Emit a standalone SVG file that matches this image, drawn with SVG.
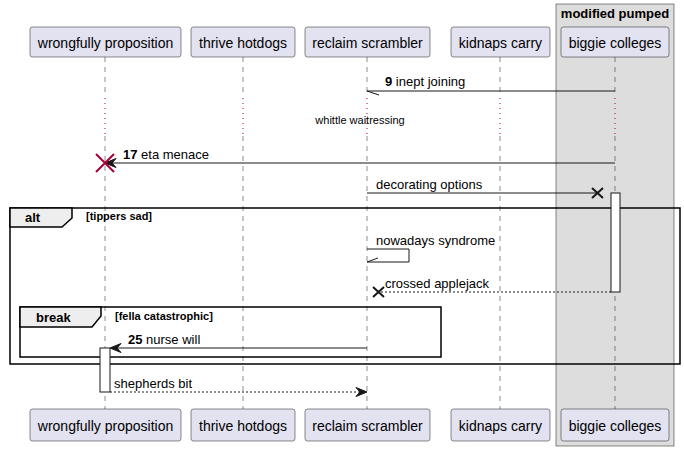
<svg xmlns="http://www.w3.org/2000/svg" width="684" height="451" viewBox="0 0 684 451">
<style>
.p rect{fill:#E2E2F0;stroke:#181818;stroke-width:0.5}
.p text{font-family:"Liberation Sans",Arial,sans-serif;font-size:14px;fill:#000;text-anchor:middle}
.ll{stroke:#181818;stroke-width:0.5;stroke-dasharray:5,5;fill:none}
.dl{stroke:#A80036;stroke-width:1;stroke-dasharray:1,4;fill:none}
.m{stroke:#181818;stroke-width:1;fill:none}
.md{stroke:#181818;stroke-width:1;fill:none;stroke-dasharray:2,2}
.ah{fill:#181818;stroke:#181818;stroke-width:1}
.t{font-family:"Liberation Sans",Arial,sans-serif;font-size:13px;fill:#000}
.s{font-family:"Liberation Sans",Arial,sans-serif;font-size:11px;fill:#000}
.b{font-weight:bold}
.fr{fill:none;stroke:#000;stroke-width:1.5}
.tab{fill:#EEEEEE;stroke:#000;stroke-width:1.5}
.act{fill:#FFFFFF;stroke:#181818;stroke-width:1}
</style>
<g id="box-modified-pumped">
<rect x="556" y="4" width="118" height="442" fill="#DDDDDD" stroke="#181818" stroke-width="0.5"/>
<text x="615" y="18" class="t b" text-anchor="middle">modified pumped</text>
</g>
<g id="lifelines">
<path class="ll" d="M105,57V97 M105,136V409 M243,57V97 M243,136V409 M367,57V97 M367,136V409 M500,57V97 M500,136V409 M615,57V97 M615,136V409"/>
<path class="dl" d="M105,98V135 M243,98V135 M367,98V135 M500,98V135 M615,98V135"/>
</g>
<g id="p-wrongfully-proposition" class="p">
<rect x="30" y="27" width="151" height="30" rx="2.5"/>
<text x="105.5" y="47.5">wrongfully proposition</text>
<rect x="30" y="409" width="151" height="32" rx="2.5"/>
<text x="105.5" y="430.5">wrongfully proposition</text>
</g>
<g id="p-thrive-hotdogs" class="p">
<rect x="191" y="27" width="104" height="30" rx="2.5"/>
<text x="243" y="47.5">thrive hotdogs</text>
<rect x="191" y="409" width="104" height="32" rx="2.5"/>
<text x="243" y="430.5">thrive hotdogs</text>
</g>
<g id="p-reclaim-scrambler" class="p">
<rect x="305" y="27" width="125" height="30" rx="2.5"/>
<text x="367.5" y="47.5">reclaim scrambler</text>
<rect x="305" y="409" width="125" height="32" rx="2.5"/>
<text x="367.5" y="430.5">reclaim scrambler</text>
</g>
<g id="p-kidnaps-carry" class="p">
<rect x="451" y="27" width="99" height="30" rx="2.5"/>
<text x="500.5" y="47.5">kidnaps carry</text>
<rect x="451" y="409" width="99" height="32" rx="2.5"/>
<text x="500.5" y="430.5">kidnaps carry</text>
</g>
<g id="p-biggie-colleges" class="p">
<rect x="561" y="27" width="108" height="30" rx="2.5"/>
<text x="615" y="47.5">biggie colleges</text>
<rect x="561" y="409" width="108" height="32" rx="2.5"/>
<text x="615" y="430.5">biggie colleges</text>
</g>
<g id="delay">
<text x="360" y="124" class="s" text-anchor="middle">whittle waitressing</text>
</g>
<g id="frame-alt">
<rect class="fr" x="10" y="208" width="670" height="156"/>
<path class="tab" d="M10,208H72V218L62,227H10Z"/>
<text x="25" y="222" class="t b">alt</text>
<text x="86" y="220" class="s b">[tippers sad]</text>
</g>
<g id="frame-break">
<rect class="fr" x="20" y="307" width="421" height="50"/>
<path class="tab" d="M20,307H101V316L92,327H20Z"/>
<text x="36" y="322" class="t b">break</text>
<text x="115" y="320" class="s b">[fella catastrophic]</text>
</g>
<g id="activations">
<rect class="act" x="611" y="193" width="9" height="99"/>
<rect class="act" x="100" y="348" width="10" height="44"/>
</g>
<g id="connectors">
<g id="msg9">
<path class="m" d="M615,91H367 M367,91L379,95"/>
<text x="385" y="86" class="t"><tspan class="b">9</tspan> inept joining</text>
</g>
<g id="msg17">
<path class="m" d="M615,163H107"/>
<polygon class="ah" points="105,163 116,158.5 112,163 116,167.5"/>
<path d="M96,154L114,172 M114,154L96,172" stroke="#A80036" stroke-width="2"/>
<text x="123" y="159" class="t"><tspan class="b">17</tspan> eta menace</text>
</g>
<g id="msg-decorating">
<path class="m" d="M367,193H597"/>
<path d="M592,188L603,198 M603,188L592,198" stroke="#181818" stroke-width="2"/>
<text x="376" y="189" class="t">decorating options</text>
</g>
<g id="msg-nowadays">
<path class="m" d="M367,249H409V262H367 M367,262L378,258"/>
<text x="376" y="245" class="t">nowadays syndrome</text>
</g>
<g id="msg-crossed">
<path class="md" d="M611,292H379"/>
<path d="M373,287L384,297 M384,287L373,297" stroke="#181818" stroke-width="2"/>
<text x="385" y="288" class="t">crossed applejack</text>
</g>
<g id="msg25">
<path class="m" d="M367,348H112"/>
<polygon class="ah" points="110,348 121,343.5 117,348 121,352.5"/>
<text x="128" y="344" class="t"><tspan class="b">25</tspan> nurse will</text>
</g>
<g id="msg-shepherds">
<path class="md" d="M110,392H365"/>
<polygon class="ah" points="367,392 356,387.5 360,392 356,396.5"/>
<text x="114" y="388" class="t">shepherds bit</text>
</g>
</g>
</svg>
